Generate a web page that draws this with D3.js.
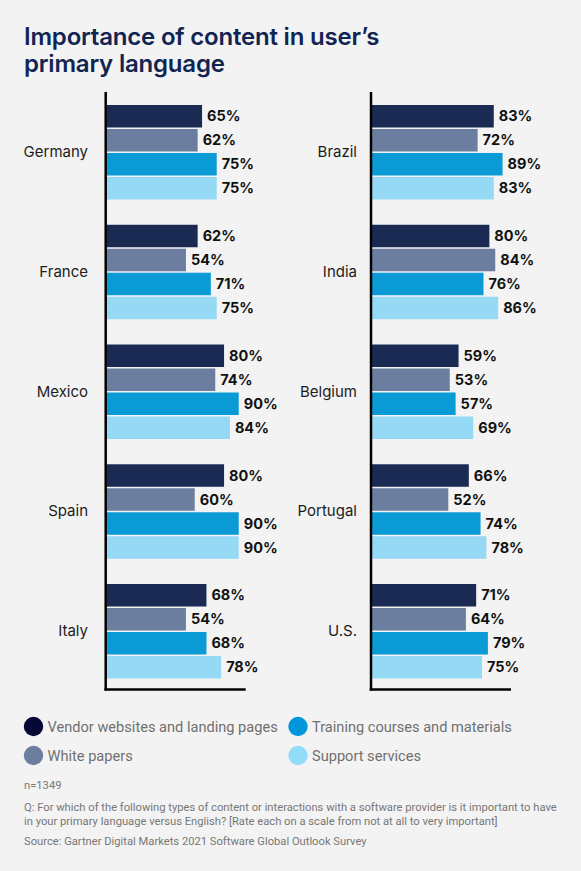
<!DOCTYPE html>
<html>
<head>
<meta charset="utf-8">
<script src="https://cdn.jsdelivr.net/npm/d3@7"></script>
<style>
  html, body { margin: 0; padding: 0; background: #f3f3f3; }
  svg { display: block; }
</style>
</head>
<body>
<svg id="chart" width="581" height="871"></svg>
<script>
// ---- data ----
const seriesNames = ["Vendor websites and landing pages", "White papers", "Training courses and materials", "Support services"];
const seriesColors = ["#1a2a53", "#6b7e9f", "#0a9bd6", "#96d9f5"];
const legendColors = ["#050833", "#6b7e9f", "#0096db", "#91dcf8"];

const leftCountries = ["Germany", "France", "Mexico", "Spain", "Italy"];
const leftVendor   = [65, 62, 80, 80, 68];
const leftWhite    = [62, 54, 74, 60, 54];
const leftTraining = [75, 71, 90, 90, 68];
const leftSupport  = [75, 75, 84, 90, 78];

const rightCountries = ["Brazil", "India", "Belgium", "Portugal", "U.S."];
const rightVendor   = [83, 80, 59, 66, 71];
const rightWhite    = [72, 84, 53, 52, 64];
const rightTraining = [89, 76, 57, 74, 79];
const rightSupport  = [83, 86, 69, 78, 75];

const titleLines = ["Importance of content in user\u2019s", "primary language"];
const noteN = "n=1349";
const noteQ = ["Q: For which of the following types of content or interactions with a software provider is it important to have",
               "in your primary language versus English? [Rate each on a scale from not at all to very important]"];
const noteSource = "Source: Gartner Digital Markets 2021 Software Global Outlook Survey";

// ---- drawing ----
const svg = d3.select("#chart");
svg.append("rect").attr("width", 581).attr("height", 871).attr("fill", "#f3f3f3");

// title
const title = svg.append("text")
  .attr("x", 24).attr("y", 45)
  .attr("fill", "#112452")
  .attr("font-family", "Inter, 'Noto Sans', sans-serif")
  .attr("font-weight", 600)
  .attr("font-size", 24)
  .attr("letter-spacing", -0.2);
titleLines.forEach((t, i) => {
  title.append("tspan").attr("x", 24).attr("y", 44.5 + i * 27.5).text(t);
});

function panel(countries, vals, axisX, labelRight) {
  const data = countries.map((c, i) => ({ country: c, values: vals.map(v => v[i]) }));
  const y0 = d3.scaleBand().domain(countries).range([105, 678.5]).paddingInner(0.211).paddingOuter(0);
  const y1 = d3.scaleBand().domain(d3.range(4)).range([0, y0.bandwidth()]).paddingInner(0.0625).paddingOuter(0);
  const x = d3.scaleLinear().domain([0, 100]).range([axisX + 1, axisX + 1 + 146.7]);

  const g = svg.append("g");
  const groups = g.selectAll("g.grp").data(data).join("g")
    .attr("class", "grp")
    .attr("transform", d => `translate(0,${y0(d.country)})`);

  groups.selectAll("rect").data(d => d.values).join("rect")
    .attr("x", x(0))
    .attr("y", (d, j) => y1(j))
    .attr("width", d => x(d) - x(0))
    .attr("height", y1.bandwidth())
    .attr("fill", (d, j) => seriesColors[j]);

  groups.selectAll("text.val").data(d => d.values).join("text")
    .attr("class", "val")
    .attr("x", d => x(d) + 5)
    .attr("y", (d, j) => y1(j) + y1.bandwidth() / 2)
    .attr("dy", "0.36em")
    .attr("fill", "#111111")
    .attr("font-family", "Inter, 'Noto Sans', sans-serif")
    .attr("font-weight", 700)
    .attr("font-size", 14.5)
    .text(d => d + "%");

  // category labels via axis
  const axis = d3.axisLeft(y0).tickSize(0).tickPadding(axisX - labelRight);
  const ax = g.append("g").attr("transform", `translate(${axisX},0)`).call(axis);
  ax.select(".domain").remove();
  ax.selectAll("text")
    .attr("fill", "#1c1c1c")
    .attr("font-family", "Inter, 'Noto Sans', sans-serif")
    .attr("font-size", 15)
    .attr("font-weight", 400);

  // axis lines
  g.append("line").attr("x1", axisX).attr("x2", axisX).attr("y1", 92).attr("y2", 690.5)
    .attr("stroke", "#000").attr("stroke-width", 2.5);
  g.append("line").attr("x1", axisX - 1.25).attr("x2", axisX + 140).attr("y1", 689.5).attr("y2", 689.5)
    .attr("stroke", "#000").attr("stroke-width", 2.5);
}

panel(leftCountries, [leftVendor, leftWhite, leftTraining, leftSupport], 105.7, 88);
panel(rightCountries, [rightVendor, rightWhite, rightTraining, rightSupport], 371, 357);

// legend
const legendPos = [[33.5, 726.5], [33.5, 755.5], [298, 726.5], [298, 755.5]];
const order = [0, 1, 2, 3];
const lg = svg.append("g");
const items = lg.selectAll("g").data(order).join("g")
  .attr("transform", i => `translate(${legendPos[i][0]},${legendPos[i][1]})`);
items.append("circle").attr("r", 9.7).attr("fill", i => legendColors[i]);
items.append("text")
  .attr("x", 14).attr("dy", "0.35em")
  .attr("fill", "#707070")
  .attr("font-family", "Roboto, 'Noto Sans', sans-serif")
  .attr("font-size", 14.6)
  .text(i => seriesNames[i]);

// notes
const noteStyle = sel => sel
  .attr("fill", "#777777")
  .attr("font-family", "Roboto, 'Noto Sans', sans-serif")
  .attr("font-size", 11.2);
svg.append("text").attr("x", 24).attr("y", 789).call(noteStyle).text(noteN);
noteQ.forEach((t, i) => {
  svg.append("text").attr("x", 24).attr("y", 811 + i * 13.5).call(noteStyle).text(t);
});
svg.append("text").attr("x", 24).attr("y", 845).call(noteStyle).text(noteSource);
</script>
</body>
</html>
